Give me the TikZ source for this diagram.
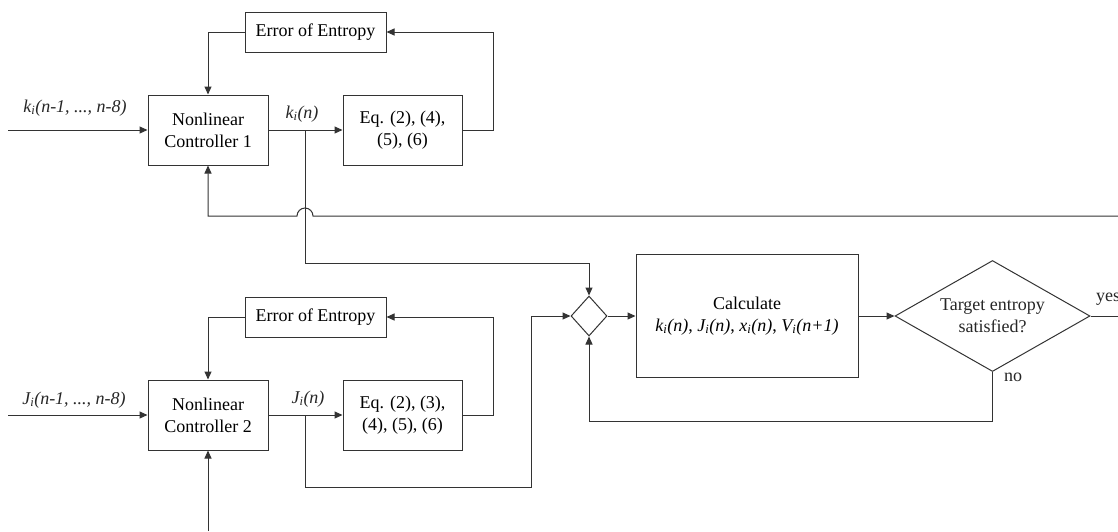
\documentclass[tikz,border=0pt]{standalone}
\usepackage{fontspec}
\setmainfont{Liberation Serif}
\usetikzlibrary{arrows.meta,shapes.geometric}
\begin{document}
\begin{tikzpicture}[x=1pt,y=-1pt, font=\fontsize{18}{22}\selectfont,
 ln/.style={draw=black!80, line width=1pt},
 arr/.style={ln, -{Triangle[length=8pt,width=7pt]}},
 box/.style={draw=black!80, line width=1pt, align=center, inner sep=0pt},
 lbl/.style={inner sep=0pt, text=black!85}]
\useasboundingbox (0,0) rectangle (1118,531);
% upper row
\node[box, minimum width=141pt, minimum height=40pt] (err1) at (315.5,32) {Error of Entropy};
\node[box, minimum width=120pt, minimum height=70pt] (nc1) at (208,130) {Nonlinear\\Controller 1};
\node[box, minimum width=119pt, minimum height=70pt] (eq1) at (402.5,130) {Eq. (2), (4),\\(5), (6)};
% lower row
\node[box, minimum width=141pt, minimum height=40pt] (err2) at (315.5,317) {Error of Entropy};
\node[box, minimum width=120pt, minimum height=70pt] (nc2) at (208,415) {Nonlinear\\Controller 2};
\node[box, minimum width=119pt, minimum height=70pt] (eq2) at (402.5,415) {Eq. (2), (3),\\(4), (5), (6)};
% right part
\node[box, shape=diamond, minimum width=36pt, minimum height=40pt] (jd) at (589,316) {};
\node[box, minimum width=222pt, minimum height=123pt] (calc) at (747,316)
  {Calculate\\\textit{k\textsubscript{i}(n)}, \textit{J\textsubscript{i}(n)}, \textit{x\textsubscript{i}(n)}, \textit{V\textsubscript{i}(n+1)}};
\node[box, shape=diamond, minimum width=195pt, minimum height=111pt] (tgt) at (992.5,316) {};
\node[lbl, align=center] (tgttext) at (992.5,316) {Target entropy\\satisfied?};
% free ends
\coordinate (in1) at (8,130);
\coordinate (in2) at (8,415);
\coordinate (j1) at (305,130);
\coordinate (j2) at (305,415);
\coordinate (fb) at (1118,216);
\coordinate (bot) at (208,531);
\coordinate (yesend) at (1118,316);
% connectors upper
\draw[arr] (in1) -- (nc1.west);
\draw[arr] (nc1.east) -- (eq1.west);
\draw[arr] (eq1.east) -- ++(31,0) |- (err1.east);
\draw[arr] (err1.west) -| (nc1.north);
\draw[arr] (fb) -- (313,216) arc[start angle=0, end angle=180, radius=8pt] -- (208,216) -- (nc1.south);
\draw[arr] (j1) -- (305,263) -| (jd.north);
% connectors lower
\draw[arr] (in2) -- (nc2.west);
\draw[arr] (nc2.east) -- (eq2.west);
\draw[arr] (eq2.east) -- ++(31,0) |- (err2.east);
\draw[arr] (err2.west) -| (nc2.north);
\draw[arr] (bot) -- (nc2.south);
\draw[arr] (j2) -- (305,487) -- (531,487) |- (jd.west);
% right connectors
\draw[arr] (jd.east) -- (calc.west);
\draw[arr] (calc.east) -- (tgt.west);
\draw[ln] (tgt.east) -- (yesend);
\draw[arr] (tgt.south) -- (992.5,421) -| (jd.south);
% labels
\node[lbl] (lk) at (75,108) {\textit{k\textsubscript{i}(n-1, ..., n-8)}};
\node[lbl] (lj) at (74,400) {\textit{J\textsubscript{i}(n-1, ..., n-8)}};
\node[lbl] (lkn) at (302,114) {\textit{k\textsubscript{i}(n)}};
\node[lbl] (ljn) at (308,399) {\textit{J\textsubscript{i}(n)}};
\node[lbl, anchor=west] (lyes) at (1096,299) {yes};
\node[lbl, anchor=west] (lno) at (1004,377) {no};
\end{tikzpicture}
\end{document}
